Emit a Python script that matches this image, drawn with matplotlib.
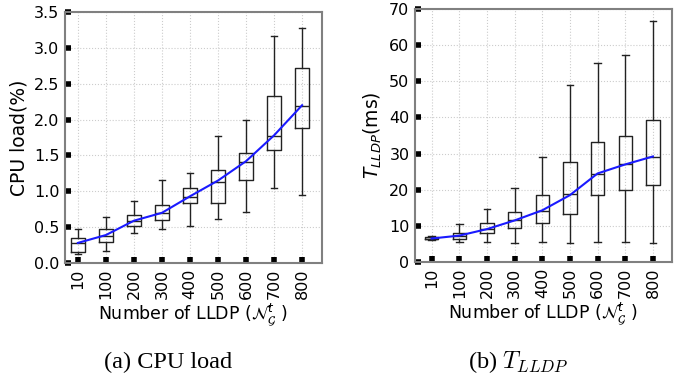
import matplotlib
matplotlib.use('Agg')
import matplotlib.pyplot as plt

labels = ['10', '100', '200', '300', '400', '500', '600', '700', '800']

# CPU load (%) box stats
cpu_low = [0.12, 0.17, 0.42, 0.47, 0.51, 0.62, 0.71, 1.05, 0.95]
cpu_q1 = [0.15, 0.29, 0.51, 0.60, 0.83, 0.84, 1.16, 1.58, 1.88]
cpu_med = [0.28, 0.37, 0.59, 0.70, 0.92, 1.13, 1.41, 1.77, 2.19]
cpu_q3 = [0.35, 0.47, 0.67, 0.81, 1.05, 1.29, 1.54, 2.33, 2.72]
cpu_high = [0.48, 0.64, 0.87, 1.16, 1.25, 1.77, 1.99, 3.17, 3.28]
cpu_mean = [0.28, 0.39, 0.59, 0.70, 0.93, 1.15, 1.42, 1.78, 2.20]

# T_LLDP (ms) box stats
t_low = [6.0, 5.5, 5.5, 5.3, 5.5, 5.3, 5.5, 5.5, 5.3]
t_q1 = [6.3, 6.4, 7.9, 9.4, 10.9, 13.2, 18.4, 19.8, 21.2]
t_med = [6.5, 7.2, 9.2, 11.5, 14.0, 18.8, 24.4, 27.0, 29.0]
t_q3 = [7.0, 8.1, 10.8, 13.8, 18.4, 27.6, 33.1, 34.8, 39.4]
t_high = [7.2, 10.5, 14.6, 20.4, 29.0, 49.1, 55.0, 57.3, 66.8]
t_mean = [6.5, 7.3, 9.1, 11.5, 14.3, 18.5, 24.5, 27.0, 29.2]


def make_stats(low, q1, med, q3, high):
    return [dict(whislo=a, q1=b, med=c, q3=d, whishi=e, fliers=[])
            for a, b, c, d, e in zip(low, q1, med, q3, high)]


def draw(ax, stats, mean, ylim, yticks, yfmt, ylabel):
    pos = list(range(1, len(labels) + 1))
    ax.bxp(stats, positions=pos, widths=0.48, showfliers=False,
           boxprops=dict(color='#222222', lw=1.0),
           whiskerprops=dict(color='#222222', lw=1.0),
           capprops=dict(color='#222222', lw=1.0),
           medianprops=dict(color='#222222', lw=1.0))
    ax.plot(pos, mean, color='#1a1aff', lw=1.5, zorder=5)
    ax.set_ylim(*ylim)
    ax.set_yticks(yticks)
    ax.set_yticklabels([yfmt.format(v) for v in yticks])
    ax.set_xticks(pos)
    ax.set_xticklabels(labels, rotation=90)
    ax.grid(True, color='#cccccc', ls=':', lw=0.8)
    ax.set_axisbelow(True)
    for s in ax.spines.values():
        s.set_color('#808080')
        s.set_linewidth(1.5)
    ax.tick_params(direction='in', length=4.5, width=4, color='black',
                   labelsize=11.5, pad=4)
    ax.set_ylabel(ylabel, fontsize=13.5)
    ax.set_xlabel(r'Number of LLDP ($\mathcal{N}_{\mathcal{G}}^{t}$ )', fontsize=12.5, labelpad=2)


fig = plt.figure(figsize=(6.91, 3.79), dpi=100)
ax1 = fig.add_axes([65 / 691, 116 / 379, 257 / 691, 251 / 379])
ax2 = fig.add_axes([415 / 691, 117 / 379, 257 / 691, 253 / 379])

draw(ax1, make_stats(cpu_low, cpu_q1, cpu_med, cpu_q3, cpu_high), cpu_mean,
     (0, 3.5), [0, 0.5, 1.0, 1.5, 2.0, 2.5, 3.0, 3.5], '{:.1f}', 'CPU load(%)')
ax1.set_xlim(0.54, 9.71)

draw(ax2, make_stats(t_low, t_q1, t_med, t_q3, t_high), t_mean,
     (0, 70), [0, 10, 20, 30, 40, 50, 60, 70], '{:.0f}', r'$T_{LLDP}$(ms)')
ax2.set_xlim(0.4, 9.69)

fig.text(168 / 691, 1 - 362 / 379, '(a) CPU load', ha='center', va='center',
         fontsize=17.5, family='Liberation Serif')
fig.text(518 / 691, 1 - 362 / 379, r'(b) $T_{LLDP}$', ha='center', va='center',
         fontsize=17.5, family='Liberation Serif', math_fontfamily='cm')

fig.savefig('out.png', dpi=100)
